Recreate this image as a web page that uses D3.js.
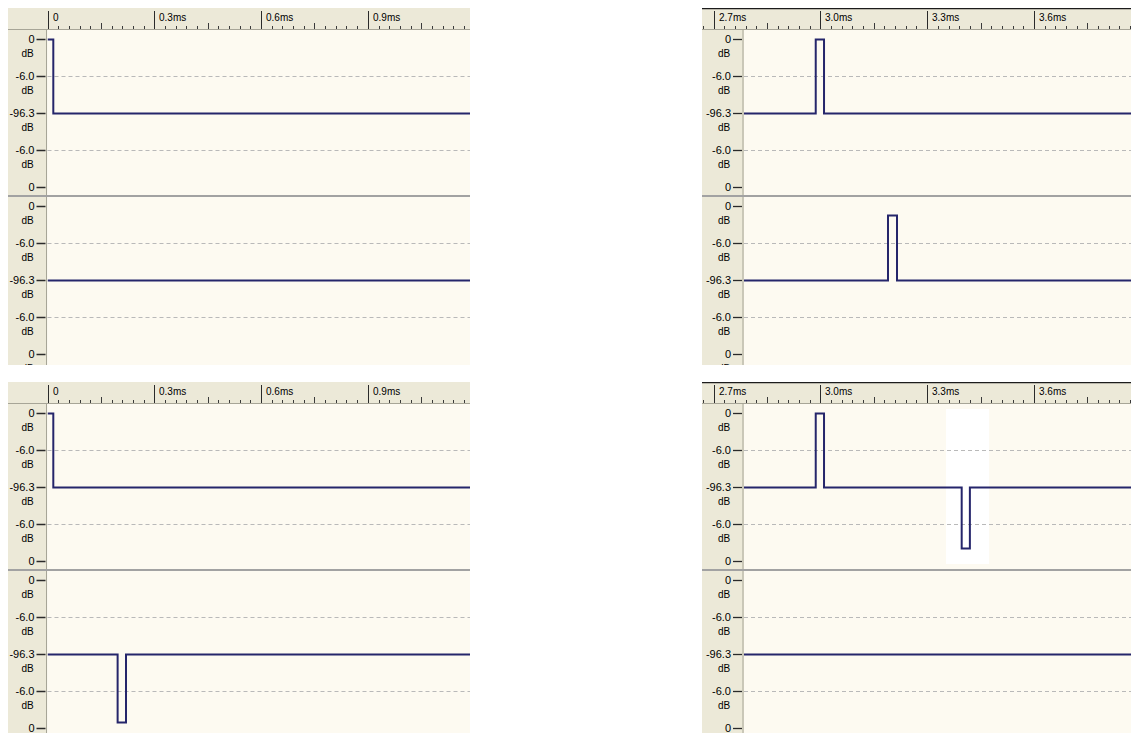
<!DOCTYPE html>
<html>
<head>
<meta charset="utf-8">
<script src="https://cdn.jsdelivr.net/npm/d3@7"></script>
<style>
  html, body { margin: 0; padding: 0; background: #ffffff; }
  svg { display: block; }
</style>
</head>
<body>
<svg id="chart" width="1131" height="733"></svg>
<script>
// ---- amplitude axis: linear sample amplitude, labelled in dB ----
const dbTickAmps = [1, 0.5, 0, -0.5, -1];
const dbTickLabels = ["0", "-6.0", "-96.3", "-6.0", "0"];

// ---- time rulers (ms) ----
const leftRulerTimes = [0, 0.3, 0.6, 0.9];
const leftRulerLabels = ["0", "0.3ms", "0.6ms", "0.9ms"];
const rightRulerTimes = [2.7, 3.0, 3.3, 3.6];
const rightRulerLabels = ["2.7ms", "3.0ms", "3.3ms", "3.6ms"];
const rulerMinorStepMs = 0.03;
const rulerMidStepMs = 0.15;

// ---- visible time window of each view (ms) ----
const leftViewMs = [0, 1.187];
const rightViewMs = [2.7855, 3.8726];

// ---- single-sample pulses per channel: start/end time (ms), amplitude (-1..1) ----
const topLeftCh1 = [{ start: 0, end: 0.0163, amp: 1 }];
const topLeftCh2 = [];
const topRightCh1 = [{ start: 2.987, end: 3.0103, amp: 1 }];
const topRightCh2 = [{ start: 3.190, end: 3.2153, amp: 0.87 }];
const bottomLeftCh1 = [{ start: 0, end: 0.0163, amp: 1 }];
const bottomLeftCh2 = [{ start: 0.197, end: 0.2205, amp: -0.93 }];
const bottomRightCh1 = [
  { start: 2.987, end: 3.0103, amp: 1 },
  { start: 3.397, end: 3.420, amp: -0.83 }
];
const bottomRightCh2 = [];

// highlighted (edited) span in the lower-right view, ms
const bottomRightHighlightMs = [3.353, 3.474];

// ---- layout ----
const COLORS = {
  chrome: "#ece9d8",
  chromeLine: "#a7a597",
  plotBg: "#fdfaf1",
  wave: "#25256b",
  grid: "#b9b9b9",
  separator: "#a2a2a2",
  text: "#000000"
};
const columns = [
  { left: 8, plotLeft: 47.5, right: 470, view: leftViewMs, ticks: leftRulerTimes, labels: leftRulerLabels, topRule: false },
  { left: 702, plotLeft: 744, right: 1131, view: rightViewMs, ticks: rightRulerTimes, labels: rightRulerLabels, topRule: true }
];
const rows = [{ top: 8 }, { top: 382 }];
const RULER_H = 21;
const CH_H = 167;
const PANEL_H = 357;
const AMP_PX = 74;
const SVG_H = 733;

const panels = [
  { col: 0, row: 0, channels: [topLeftCh1, topLeftCh2] },
  { col: 1, row: 0, channels: [topRightCh1, topRightCh2] },
  { col: 0, row: 1, channels: [bottomLeftCh1, bottomLeftCh2] },
  { col: 1, row: 1, channels: [bottomRightCh1, bottomRightCh2], highlight: { channel: 0, span: bottomRightHighlightMs } }
];

const svg = d3.select("#chart");
const defs = svg.append("defs");
const FONT = "'Liberation Sans', Arial, sans-serif";

panels.forEach((p, i) => {
  const c = columns[p.col];
  const r = rows[p.row];
  const top = r.top;
  const bottom = top + PANEL_H;
  const width = c.right - c.left;
  const rulerBase = top + RULER_H;

  // x scale maps ms to pixels; the ruler shares it across the full panel width
  const x = d3.scaleLinear().domain(c.view).range([c.plotLeft, c.right]);

  defs.append("clipPath").attr("id", `panel-${i}`)
    .append("rect").attr("x", c.left).attr("y", top).attr("width", width).attr("height", bottom - top);
  defs.append("clipPath").attr("id", `plot-${i}`)
    .append("rect").attr("x", c.plotLeft).attr("y", rulerBase).attr("width", c.right - c.plotLeft).attr("height", bottom - rulerBase);

  const g = svg.append("g").attr("clip-path", `url(#panel-${i})`);

  // ---- ruler ----
  g.append("rect").attr("x", c.left).attr("y", top).attr("width", width).attr("height", RULER_H).attr("fill", COLORS.chrome);

  const tStart = Math.max(0, x.invert(c.left));
  const tEnd = x.invert(c.right);
  const firstIdx = Math.ceil(tStart / rulerMinorStepMs - 1e-6);
  const lastIdx = Math.floor(tEnd / rulerMinorStepMs + 1e-6);
  const minor = d3.range(firstIdx, lastIdx + 1).map(k => k * rulerMinorStepMs);

  g.append("g").selectAll("line").data(minor).join("line")
    .attr("x1", d => Math.round(x(d)) + 0.5).attr("x2", d => Math.round(x(d)) + 0.5)
    .attr("y1", d => {
      const m = Math.round(d / rulerMidStepMs * 1000) / 1000;
      return Number.isInteger(m) ? rulerBase - 6 : rulerBase - 3;
    })
    .attr("y2", rulerBase)
    .attr("stroke", "#3a3a3a").attr("stroke-width", 1);

  const majors = c.ticks.map((t, k) => ({ t, label: c.labels[k] }));
  const mg = g.append("g").selectAll("g").data(majors).join("g")
    .attr("transform", d => `translate(${Math.round(x(d.t)) + 0.5},0)`);
  mg.append("line").attr("y1", top + 3).attr("y2", rulerBase).attr("stroke", "#2a2a2a").attr("stroke-width", 1);
  mg.append("text").attr("x", 4.5).attr("y", top + 12.5)
    .attr("font-family", FONT).attr("font-size", 10).attr("fill", COLORS.text)
    .text(d => d.label);

  g.append("line").attr("x1", c.left).attr("x2", c.right)
    .attr("y1", rulerBase + 0.5).attr("y2", rulerBase + 0.5)
    .attr("stroke", COLORS.chromeLine).attr("stroke-width", 1);

  if (c.topRule) {
    g.append("line").attr("x1", c.left).attr("x2", c.right)
      .attr("y1", top + 0.5).attr("y2", top + 0.5)
      .attr("stroke", "#1c1c1c").attr("stroke-width", 1.5);
  }

  // ---- amplitude column ----
  g.append("rect").attr("x", c.left).attr("y", rulerBase + 1).attr("width", c.plotLeft - c.left)
    .attr("height", bottom - rulerBase).attr("fill", COLORS.chrome);
  g.append("line").attr("x1", c.plotLeft - 1).attr("x2", c.plotLeft - 1)
    .attr("y1", rulerBase).attr("y2", bottom)
    .attr("stroke", COLORS.chromeLine).attr("stroke-width", 1);

  // ---- channels ----
  p.channels.forEach((pulses, ch) => {
    const isLast = ch === p.channels.length - 1;
    const chTop = rulerBase + ch * CH_H;
    const chBottom = isLast ? bottom : chTop + CH_H;
    const center = chTop + CH_H / 2;
    const y = d3.scaleLinear().domain([-1, 1]).range([center + AMP_PX, center - AMP_PX]);

    // visible bottom of this channel's label strip
    const stripBottom = Math.min(isLast ? chBottom : chTop + CH_H - 3, SVG_H);
    const labelClip = `lab-${i}-${ch}`;
    defs.append("clipPath").attr("id", labelClip)
      .append("rect").attr("x", c.left).attr("y", chTop + 1)
      .attr("width", c.plotLeft - c.left).attr("height", stripBottom - chTop - 1);

    const plot = g.append("g");
    plot.append("rect").attr("x", c.plotLeft).attr("y", chTop + 1)
      .attr("width", c.right - c.plotLeft).attr("height", chBottom - chTop - 1)
      .attr("fill", COLORS.plotBg);

    if (p.highlight && p.highlight.channel === ch) {
      const [h0, h1] = p.highlight.span;
      plot.append("rect").attr("x", x(h0)).attr("y", chTop + 6)
        .attr("width", x(h1) - x(h0)).attr("height", CH_H - 12)
        .attr("fill", "#ffffff");
    }

    // dashed guides at half amplitude
    plot.append("g").selectAll("line").data([0.5, -0.5]).join("line")
      .attr("x1", c.plotLeft).attr("x2", c.right)
      .attr("y1", d => Math.round(y(d)) + 0.5).attr("y2", d => Math.round(y(d)) + 0.5)
      .attr("stroke", COLORS.grid).attr("stroke-width", 1).attr("stroke-dasharray", "4,3");

    // amplitude ticks with dB labels
    const ticks = dbTickAmps.map((a, k) => ({ a, label: dbTickLabels[k], py: Math.round(y(a)) + 0.5 }));
    const tg = g.append("g").attr("clip-path", `url(#${labelClip})`)
      .selectAll("g").data(ticks)
      .join("g").attr("transform", d => `translate(0,${d.py})`);
    tg.append("line").attr("x1", c.plotLeft - 11).attr("x2", c.plotLeft - 2)
      .attr("stroke", "#2a2a2a").attr("stroke-width", 1.3);
    tg.append("text").attr("x", c.plotLeft - 13).attr("y", 3.8)
      .attr("text-anchor", "end").attr("font-family", FONT).attr("font-size", 11)
      .attr("fill", COLORS.text).text(d => d.label);
    // unit line under each label, only where some of it falls inside the strip
    tg.filter(d => d.py + 17.5 - 7.5 < stripBottom)
      .append("text").attr("x", c.plotLeft - 20).attr("y", 17.5)
      .attr("text-anchor", "middle").attr("font-family", FONT).attr("font-size", 10)
      .attr("fill", COLORS.text).text("dB");

    // waveform: silence with held single-sample pulses
    const pts = [];
    const [v0, v1] = c.view;
    if (!pulses.length || pulses[0].start > v0) pts.push([v0, 0]);
    pulses.forEach(pu => {
      if (pu.start > v0) pts.push([pu.start, 0]);
      pts.push([Math.max(pu.start, v0), pu.amp]);
      pts.push([pu.end, pu.amp]);
      pts.push([pu.end, 0]);
    });
    pts.push([v1, 0]);

    const line = d3.line().x(d => x(d[0])).y(d => Math.round(y(d[1])) + 0.5);
    g.append("path").attr("clip-path", `url(#plot-${i})`)
      .attr("d", line(pts)).attr("fill", "none")
      .attr("stroke", COLORS.wave).attr("stroke-width", 2).attr("stroke-linejoin", "miter");

    // channel separator
    if (ch === 0) {
      g.append("line").attr("x1", c.left).attr("x2", c.right)
        .attr("y1", chTop + CH_H).attr("y2", chTop + CH_H)
        .attr("stroke", COLORS.separator).attr("stroke-width", 2);
    }
  });
});
</script>
</body>
</html>
